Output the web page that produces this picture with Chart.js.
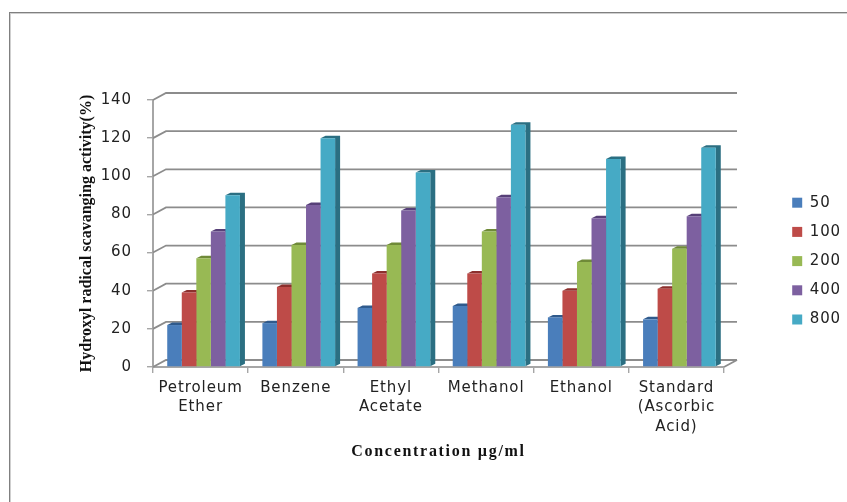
<!DOCTYPE html>
<html lang="en">
<head>
<meta charset="UTF-8">
<title>Hydroxyl radical scavanging activity</title>
<script src="https://cdn.jsdelivr.net/npm/chart.js@4"></script>
<style>
    html, body { margin: 0; padding: 0; background: #fff; }
    .frame { position: absolute; left: 9px; top: 12px; right: 0; bottom: 0; border-left: 1px solid #808080; border-top: 1px solid #808080; box-shadow: inset 1px 1px 0 #cfcfcf; pointer-events: none; }
    canvas { position: absolute; left: 0; top: 0; }
</style>
</head>
<body>
<div class="frame"></div>
<canvas id="chart" width="847" height="502"></canvas>
<script>
const categories = [['Petroleum', 'Ether'], 'Benzene', ['Ethyl', 'Acetate'], 'Methanol', 'Ethanol', ['Standard', '(Ascorbic', 'Acid)']];
const seriesNames = ['50', '100', '200', '400', '800'];
const conc50 = [22, 23, 31, 32, 26, 25];
const conc100 = [39, 42, 49, 49, 40, 41];
const conc200 = [57, 64, 64, 71, 55, 62];
const conc400 = [71, 85, 82, 89, 78, 79];
const conc800 = [90, 120, 102, 127, 109, 115];
const seriesValues = [conc50, conc100, conc200, conc400, conc800];
const frontColors = ['#4a7ebb', '#be4b48', '#98b954', '#7d60a0', '#46aac5'];
const sideColors = ['#2f5a8c', '#8c2f2d', '#6f8a38', '#574078', '#2b6f82'];

const wallX = 13, wallY = -7;      // back wall offset from the front plane
const barX = 3;                    // bars sit a little right of the category centre
const depthX = 5, depthY = -2.5;   // depth of a bar
const labelFont = { family: '"DejaVu Sans"', size: 15, lineHeight: 1.27 };
const textColor = '#222';
const textSpacing = '0.9px';

// back wall gridlines, floor and left wall diagonals
const wallPlugin = {
    id: 'wall',
    beforeDatasetsDraw(chart) {
        const { ctx, chartArea: a, scales: { y } } = chart;
        ctx.save();
        ctx.strokeStyle = '#8c8c8c';
        ctx.lineWidth = 1.8;
        y.ticks.forEach(t => {
            const py = y.getPixelForValue(t.value);
            ctx.beginPath();
            ctx.moveTo(a.left, py);
            ctx.lineTo(a.left + wallX, py + wallY);
            ctx.lineTo(a.right + wallX, py + wallY);
            ctx.stroke();
        });
        ctx.beginPath();
        ctx.moveTo(a.right, a.bottom);
        ctx.lineTo(a.right + wallX, a.bottom + wallY);
        ctx.stroke();
        ctx.restore();
    }
};

// bar side and top faces, then shift the bars themselves
const barDepthPlugin = {
    id: 'barDepth',
    beforeDatasetsDraw(chart) {
        const { ctx } = chart;
        ctx.save();
        ctx.translate(barX, 0);
        chart.data.datasets.forEach((ds, i) => {
            chart.getDatasetMeta(i).data.forEach(bar => {
                const l = bar.x - bar.width / 2, r = bar.x + bar.width / 2;
                ctx.fillStyle = sideColors[i];
                ctx.beginPath();
                ctx.moveTo(l, bar.y);
                ctx.lineTo(l + depthX, bar.y + depthY);
                ctx.lineTo(r + depthX, bar.y + depthY);
                ctx.lineTo(r + depthX, bar.base + depthY);
                ctx.lineTo(r, bar.base);
                ctx.lineTo(r, bar.y);
                ctx.closePath();
                ctx.fill();
            });
        });
    },
    afterDatasetsDraw(chart) {
        chart.ctx.restore();
    }
};

// the axis titles need their own letter spacing
function spaceTitle(scale, spacing) {
    if (scale.spacedTitle) return;
    scale.spacedTitle = true;
    const drawTitle = scale.drawTitle;
    scale.drawTitle = function () {
        this.ctx.letterSpacing = spacing;
        drawTitle.call(this);
        this.ctx.letterSpacing = textSpacing;
    };
}

// keep the legend where the reference has it
const placePlugin = {
    id: 'place',
    afterLayout(chart) {
        const lg = chart.legend;
        lg.left = 778; lg.right = 847;
        lg.top = 181; lg.bottom = 420;
    },
    beforeDraw(chart) {
        spaceTitle(chart.scales.x, '1.7px');
        spaceTitle(chart.scales.y, '0px');
        chart.ctx.letterSpacing = textSpacing;
    }
};

new Chart(document.getElementById('chart'), {
    type: 'bar',
    data: {
        labels: categories,
        datasets: seriesNames.map((name, i) => ({
            label: name,
            data: seriesValues[i],
            backgroundColor: frontColors[i],
            barPercentage: 1,
            categoryPercentage: 0.764
        }))
    },
    plugins: [placePlugin, wallPlugin, barDepthPlugin],
    options: {
        responsive: false,
        animation: false,
        layout: { padding: { left: 70, top: 100, right: 123, bottom: 28 } },
        plugins: {
            tooltip: { enabled: false },
            title: { display: false },
            legend: {
                position: 'chartArea',
                align: 'start',
                labels: { boxWidth: 10, boxHeight: 10, padding: 14.2, color: textColor, font: labelFont }
            }
        },
        scales: {
            x: {
                afterFit(s) { s.height = 107; },
                grid: { drawOnChartArea: false, tickLength: 6, color: '#a6a6a6', lineWidth: 1.4 },
                border: { color: '#a6a6a6', width: 2 },
                ticks: { autoSkip: false, maxRotation: 0, minRotation: 0, color: textColor, font: labelFont, padding: 6 },
                title: { display: true, text: 'Concentration µg/ml', color: '#111', font: { family: '"Liberation Serif"', size: 16, weight: 'bold' }, padding: { top: 0, bottom: 13 } }
            },
            y: {
                min: 0,
                max: 140,
                afterFit(s) { s.width = 83; },
                grid: { drawOnChartArea: false, tickLength: 6, color: '#a6a6a6', lineWidth: 1.4 },
                border: { color: '#a6a6a6', width: 2 },
                ticks: { stepSize: 20, color: textColor, font: labelFont, padding: 15 },
                title: { display: true, text: 'Hydroxyl radical scavanging activity(%)', color: '#111', font: { family: '"Liberation Serif"', size: 16, weight: 'bold' }, padding: { top: 7, bottom: 0 } }
            }
        }
    }
});
</script>
</body>
</html>
